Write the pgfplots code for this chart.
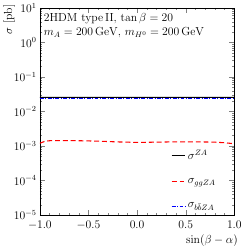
\documentclass[border=0pt]{standalone}
\usepackage{pgfplots}
\pgfplotsset{compat=1.18}
\begin{document}
\begin{tikzpicture}
\begin{axis}[
  scale only axis, width=199bp, height=212bp,
  xmin=-1, xmax=1, ymin=1e-5, ymax=10, ymode=log,
  xtick={-1,-0.5,0,0.5,1},
  xticklabels={$-1.0$,$-0.5$,$0.0$,$0.5$,$1.0$},
  ytick={1e-5,1e-4,1e-3,1e-2,1e-1,1,10},
  minor x tick num=4,
  tick align=inside,
  major tick length=5bp, minor tick length=2.5bp,
  tick label style={font=\large},
  xticklabel style={yshift=-3bp},
  label style={font=\large},
  ylabel={$\sigma$ [pb]},
  xlabel={$\sin(\beta-\alpha)$},
  ylabel style={at={(rel axis cs:0,1)}, anchor=south east, xshift=7bp, yshift=22bp},
  xlabel style={at={(rel axis cs:1,0)}, anchor=north east, yshift=-17bp, xshift=7bp},
  legend cell align=left,
  legend style={draw=none, fill=none, font=\large, at={(rel axis cs:0.93,-0.025)}, anchor=south east, nodes={inner ysep=9bp}},
  legend image code/.code={\draw[#1] (0bp,0bp) -- (14bp,0bp);},
]
\addplot[black, line width=1pt] coordinates {
(-1,0.0255) (-0.95,0.0257) (-0.9,0.0257) (-0.8,0.0257) (-0.6,0.0257) (-0.4,0.0257) (-0.2,0.0256) (0,0.0256) (0.2,0.0256) (0.4,0.0256) (0.6,0.0256) (0.8,0.0256) (0.9,0.0256) (1,0.0255)};
\addlegendentry{$\sigma^{ZA}$}
\addplot[red, line width=1.1pt, dash pattern=on 5bp off 3bp] coordinates {
(-1,1.2e-3) (-0.95,1.36e-3) (-0.9,1.42e-3) (-0.8,1.43e-3) (-0.6,1.42e-3) (-0.4,1.38e-3) (-0.2,1.31e-3) (0,1.27e-3) (0.2,1.29e-3) (0.4,1.32e-3) (0.6,1.32e-3) (0.8,1.29e-3) (0.9,1.24e-3) (1,1.16e-3)};
\addlegendentry{$\sigma_{ggZA}$}
\addplot[blue, line width=1pt, dash pattern=on 4bp off 1.5bp on 1bp off 1.5bp] coordinates {
(-1,0.0243) (-0.5,0.0243) (0,0.0243) (0.5,0.0243) (1,0.0243)};
\addlegendentry{$\sigma_{b\bar bZA}$}
\node[anchor=north west, align=left, font=\large, inner sep=0pt] at (rel axis cs:0.02,0.975) {2HDM type\,II, $\tan\beta=20$\\[1pt] $m_A=200\,\mathrm{GeV}$, $m_{H^0}=200\,\mathrm{GeV}$};
\end{axis}
\end{tikzpicture}
\end{document}
